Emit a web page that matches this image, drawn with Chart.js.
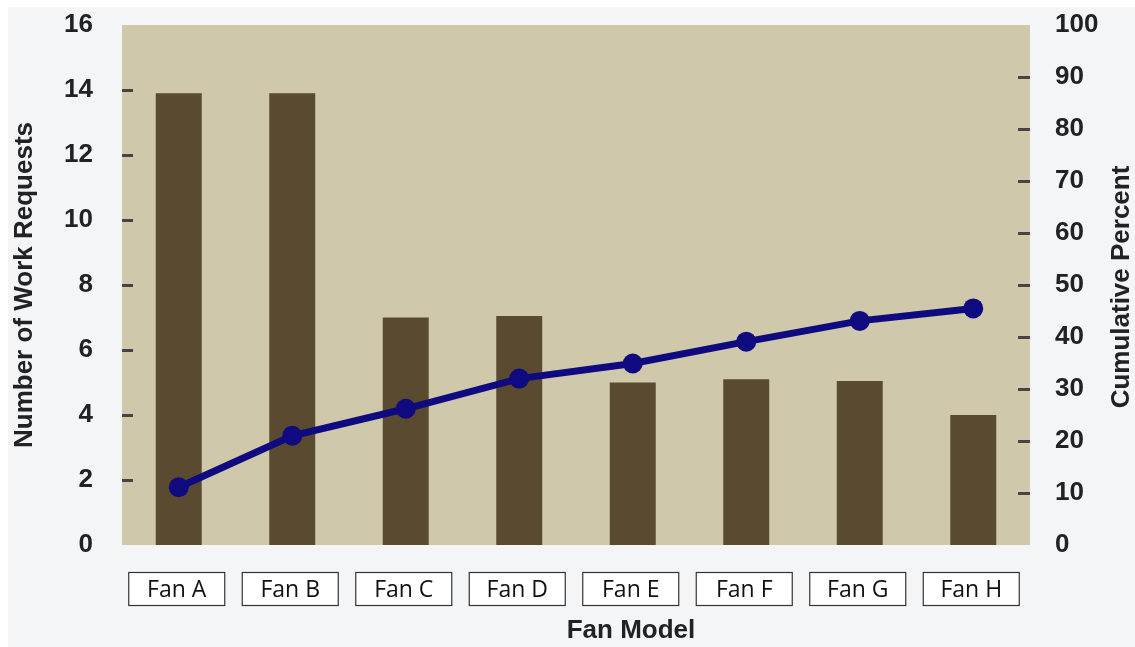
<!DOCTYPE html>
<html lang="en">

<head>
    <meta charset="UTF-8">
    <title>Fan Model Pareto</title>
    <script src="https://cdn.jsdelivr.net/npm/chart.js"></script>
    <style>
        html, body { margin: 0; padding: 0; background: #ffffff; }
        #wrap { width: 1135px; height: 647px; position: relative; }
    </style>
</head>

<body>
    <div id="wrap">
        <canvas id="myChart" width="1135" height="647"></canvas>
    </div>

    <script>
        // data
        var fanModels = ['Fan A', 'Fan B', 'Fan C', 'Fan D', 'Fan E', 'Fan F', 'Fan G', 'Fan H'];
        var workRequests = [13.9, 13.9, 7.0, 7.05, 5.0, 5.1, 5.05, 4.0];
        var cumulativePercent = [11.1, 21.0, 26.2, 32.0, 34.9, 39.1, 43.1, 45.5];
        var leftTicks = [0, 2, 4, 6, 8, 10, 12, 14, 16];
        var rightTicks = [0, 10, 20, 30, 40, 50, 60, 70, 80, 90, 100];

        var fontFam = '"Liberation Sans", Arial, sans-serif';
        var tickFont = { family: fontFam, size: 26, weight: 'bold' };
        var titleFont = 'bold 26px ' + fontFam;

        // background + plot area colour
        var bgPlugin = {
            id: 'bg',
            beforeDraw: function (chart) {
                var c = chart.ctx, a = chart.chartArea;
                c.save();
                c.fillStyle = '#f4f5f7';
                c.fillRect(8, 7, chart.width - 8, chart.height - 7);
                c.fillStyle = '#cfc8ab';
                c.fillRect(a.left, a.top, a.right - a.left, a.bottom - a.top);
                c.restore();
            }
        };

        // small tick dashes inside the plot, boxed category labels, titles
        var decoPlugin = {
            id: 'deco',
            afterDatasetsDraw: function (chart) {
                var c = chart.ctx, a = chart.chartArea;
                var yl = chart.scales.y, yr = chart.scales.y2;
                c.save();
                c.fillStyle = '#444444';
                leftTicks.forEach(function (v) {
                    if (v === 0 || v === 16) return;
                    var py = Math.round(yl.getPixelForValue(v));
                    c.fillRect(a.left, py - 1, 11, 3);
                });
                rightTicks.forEach(function (v) {
                    if (v === 0 || v === 100) return;
                    var py = Math.round(yr.getPixelForValue(v));
                    c.fillRect(a.right - 12, py - 1, 12, 3);
                });
                c.restore();
            },
            afterDraw: function (chart) {
                var c = chart.ctx;
                var x = chart.scales.x;
                c.save();
                // boxed labels
                c.font = '23px "Open Sans", sans-serif';
                c.textAlign = 'center';
                c.textBaseline = 'middle';
                fanModels.forEach(function (name, i) {
                    var cx = x.getPixelForValue(i) - 2;
                    c.fillStyle = '#ffffff';
                    c.fillRect(cx - 48.5, 572, 97, 34);
                    c.strokeStyle = '#333333';
                    c.lineWidth = 1.2;
                    c.strokeRect(cx - 48.5 + 0.5, 572.5, 96, 33);
                    c.fillStyle = '#111111';
                    c.fillText(name, cx, 590);
                });
                // x title
                c.fillStyle = '#222222';
                c.font = titleFont;
                c.fillText('Fan Model', 631, 631);
                // right title, reads bottom to top
                c.translate(1122, 287);
                c.rotate(-Math.PI / 2);
                c.fillText('Cumulative Percent', 0, 0);
                c.restore();
            }
        };

        function noVertPad(s) {
            s.paddingTop = 0;
            s.paddingBottom = 0;
        }

        const ctx = document.getElementById('myChart');
        var myChart = new Chart(ctx, {
            data: {
                labels: fanModels,
                datasets: [{
                    type: 'line',
                    label: 'Cumulative Percent',
                    data: cumulativePercent,
                    yAxisID: 'y2',
                    borderColor: '#0f0a80',
                    backgroundColor: '#0f0a80',
                    borderWidth: 7,
                    pointRadius: 10,
                    pointBorderWidth: 0,
                    tension: 0,
                    order: 0
                }, {
                    type: 'bar',
                    label: 'Number of Work Requests',
                    data: workRequests,
                    yAxisID: 'y',
                    backgroundColor: '#5a4a30',
                    borderWidth: 0,
                    barPercentage: 0.405,
                    categoryPercentage: 1,
                    order: 1
                }]
            },
            options: {
                responsive: false,
                animation: false,
                layout: { padding: { top: 25, bottom: 102, left: 0, right: 0 } },
                plugins: {
                    legend: { display: false },
                    tooltip: { enabled: false }
                },
                scales: {
                    x: {
                        display: false,
                        offset: true
                    },
                    y: {
                        position: 'left',
                        min: 0,
                        max: 16,
                        afterFit: function (s) { s.width = 122; noVertPad(s); },
                        afterBuildTicks: function (s) { s.ticks = leftTicks.map(function (v) { return { value: v }; }); },
                        grid: { display: false, drawTicks: false },
                        border: { display: false },
                        ticks: { font: tickFont, color: '#222222', padding: 29 },
                        title: {
                            display: true,
                            text: 'Number of Work Requests',
                            color: '#222222',
                            font: { family: fontFam, size: 26, weight: 'bold' },
                            padding: { top: 9, bottom: 0 }
                        }
                    },
                    y2: {
                        position: 'right',
                        min: 0,
                        max: 100,
                        afterFit: function (s) { s.width = 105; noVertPad(s); },
                        afterBuildTicks: function (s) { s.ticks = rightTicks.map(function (v) { return { value: v }; }); },
                        grid: { display: false, drawTicks: false },
                        border: { display: false },
                        ticks: { font: tickFont, color: '#222222', padding: 25 }
                    }
                }
            },
            plugins: [bgPlugin, decoPlugin]
        });
    </script>
</body>

</html>
